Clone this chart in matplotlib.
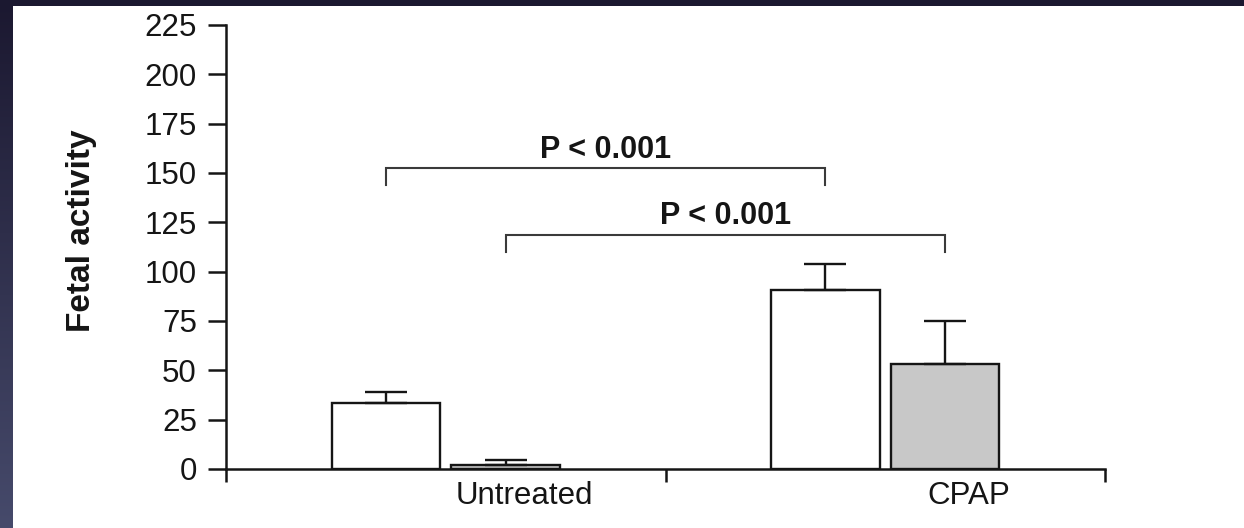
import numpy as np
import matplotlib
matplotlib.use("Agg")
import matplotlib.pyplot as plt
from matplotlib.patches import Rectangle

# Data
groups = ["Untreated", "CPAP"]
first_means = [33.6, 90.9]      # open bars
first_errs = [5.3, 13.0]
second_means = [2.0, 53.1]      # grey bars
second_errs = [2.6, 21.7]
y_ticks = [0, 25, 50, 75, 100, 125, 150, 175, 200, 225]
p_label = "P < 0.001"
y_label = "Fetal activity"

W, H = 1244, 528
plt.rcParams["font.family"] = ["Liberation Sans", "DejaVu Sans"]
fig = plt.figure(figsize=(W / 100, H / 100), dpi=100)
fig.patch.set_facecolor("white")

# Dark slide border: gradient strip on the left, solid strip on top
strip = fig.add_axes([0, 0, 12 / W, 1])
grad = np.linspace(0, 1, 256).reshape(-1, 1)
c_top = np.array([0x1b, 0x18, 0x30]) / 255
c_bot = np.array([0x46, 0x4a, 0x6b]) / 255
img = c_top[None, None, :] * (1 - grad[:, :, None]) + c_bot[None, None, :] * grad[:, :, None]
strip.imshow(img, aspect="auto", extent=[0, 1, 0, 1], origin="upper")
strip.axis("off")
fig.add_artist(Rectangle((0, 1 - 6 / H), 1, 6 / H, transform=fig.transFigure,
                         facecolor="#1b1830", edgecolor="none", zorder=5))

ax = fig.add_axes([226 / W, 59 / H, 879 / W, 444 / H])
ax.set_facecolor("white")

x = np.arange(len(groups))
off = 0.136
width = 0.246
ink = "#151515"

ax.bar(x - off, first_means, width, color="white", edgecolor=ink, linewidth=1.7, zorder=2)
ax.bar(x + off, second_means, width, color="#c8c8c8", edgecolor=ink, linewidth=1.7, zorder=2)
ax.errorbar(x - off, first_means, yerr=[np.zeros(2), first_errs], fmt="none",
            ecolor=ink, elinewidth=1.7, capsize=15, capthick=1.7, zorder=3)
ax.errorbar(x + off, second_means, yerr=[np.zeros(2), second_errs], fmt="none",
            ecolor=ink, elinewidth=1.7, capsize=15, capthick=1.7, zorder=3)

ax.set_xlim(-0.5, 1.5)
ax.set_ylim(0, 225)

for s in ("top", "right"):
    ax.spines[s].set_visible(False)
for s in ("left", "bottom"):
    ax.spines[s].set_linewidth(1.8)
    ax.spines[s].set_color(ink)
ax.spines["left"].set_bounds(0, 225)

ax.set_yticks(y_ticks)
ax.set_yticklabels([str(t) for t in y_ticks])
ax.tick_params(axis="y", direction="out", length=13, width=1.8, pad=8,
               labelsize=22.5, colors=ink)

ax.set_xticks([-0.5, 0.5, 1.5])
ax.set_xticklabels([])
ax.tick_params(axis="x", which="major", direction="out", length=9.5, width=1.8, colors=ink)
ax.set_xticks([0.18, 1.19], minor=True)
ax.set_xticklabels(groups, minor=True)
ax.tick_params(axis="x", which="minor", length=0, pad=9, labelsize=22.5, labelcolor=ink)

# Significance brackets
def bracket(x0, x1, y, drop, label, text_y):
    ax.plot([x0, x0, x1, x1], [y - drop, y, y, y - drop], color="#3a3a3a",
            linewidth=1.5, solid_joinstyle="miter", zorder=4, clip_on=False)
    ax.text((x0 + x1) / 2, text_y, label, ha="center", va="baseline",
            fontsize=22, fontweight="bold", color=ink)

bracket(x[0] - off, x[1] - off, 152.3, 8.6, p_label, 157.5)
bracket(x[0] + off, x[1] + off, 118.8, 8.6, p_label, 124.2)

fig.text(82 / W, 1 - 231 / H, y_label, rotation=90, ha="center", va="center",
         fontsize=24, fontweight="bold", color=ink)

fig.savefig("out.png", dpi=100, facecolor=fig.get_facecolor())
